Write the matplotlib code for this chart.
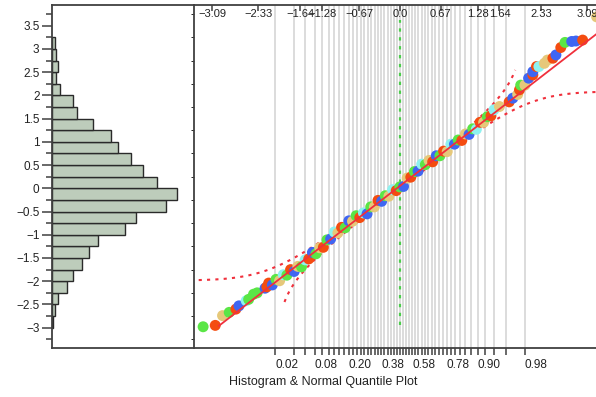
import itertools
from statistics import NormalDist

import matplotlib
matplotlib.use("Agg")
import matplotlib.pyplot as plt
import matplotlib.transforms as mtransforms
import numpy as np

plt.rcParams["font.family"] = ["Liberation Sans", "DejaVu Sans"]

# histogram: lower bin edges (width 0.25) and counts
bin_lo = np.arange(-3.0, 3.25, 0.25)
counts = [1, 2, 4, 11, 15, 21, 26, 33, 52, 60, 81, 89, 75,
          65, 56, 47, 42, 29, 18, 15, 6, 3, 4, 3, 2]

# normal quantile plot points (normal quantile, value)
tail_lo_q = [-3.24, -3.04, -2.92, -2.81, -2.70, -2.65, -2.53, -2.49, -2.41, -2.35, -2.22, -2.19]
tail_lo_y = [-2.98, -2.95, -2.74, -2.67, -2.60, -2.53, -2.42, -2.39, -2.28, -2.25, -2.15, -2.12]
tail_lo_c = "grtgrbcgggbr"

mid_q = [-2.16, -2.10, -2.04, -1.98, -1.92, -1.86, -1.80, -1.74, -1.68, -1.62,
         -1.56, -1.50, -1.44, -1.38, -1.32, -1.26, -1.20, -1.14, -1.08, -1.02,
         -0.96, -0.90, -0.84, -0.78, -0.72, -0.66, -0.60, -0.54, -0.48, -0.42,
         -0.36, -0.30, -0.24, -0.18, -0.12, -0.06, 0.00, 0.06, 0.12, 0.18,
         0.24, 0.30, 0.36, 0.42, 0.48, 0.54, 0.60, 0.66, 0.72, 0.78,
         0.84, 0.90, 0.96, 1.02, 1.08, 1.14, 1.20, 1.26, 1.32, 1.38,
         1.44, 1.50]
mid_y = [-2.04, -2.08, -1.96, -1.99, -1.86, -1.87, -1.75, -1.79, -1.68, -1.69,
         -1.54, -1.52, -1.38, -1.41, -1.28, -1.27, -1.11, -1.09, -0.94, -0.96,
         -0.84, -0.85, -0.70, -0.71, -0.59, -0.63, -0.53, -0.55, -0.40, -0.40,
         -0.26, -0.28, -0.16, -0.17, -0.03, -0.05, 0.03, 0.04, 0.22, 0.24,
         0.36, 0.37, 0.52, 0.51, 0.60, 0.57, 0.70, 0.70, 0.80, 0.79,
         0.95, 0.95, 1.04, 1.03, 1.17, 1.16, 1.28, 1.27, 1.42, 1.42,
         1.54, 1.56]
mid_c = "rbgtcgrbtgcrbgtrgbctrgbtgrcbgtrbgtcrgbtrgbcgtrbgrtcbgrtbgcrtg"

tail_hi_q = [1.55, 1.64, 1.80, 1.86, 1.94, 1.97, 1.99, 2.06, 2.12, 2.19, 2.19, 2.25,
             2.29, 2.38, 2.43, 2.52, 2.57, 2.65, 2.72, 2.83, 2.90, 3.01, 3.24]
tail_hi_y = [1.69, 1.76, 1.86, 1.94, 2.02, 2.12, 2.22, 2.22, 2.37, 2.44, 2.51, 2.62,
             2.62, 2.69, 2.76, 2.80, 2.87, 3.03, 3.14, 3.16, 3.17, 3.19, 3.69]
tail_hi_c = "ctrbtrgtbrbrcttrbrgbbrt"

# fitted normal line and confidence band width
fit_mean = 0.05
fit_sd = 1.01
band_d = 0.022

top_ticks = [-3.09, -2.33, -1.64, -1.28, -0.67, 0.0, 0.67, 1.28, 1.64, 2.33, 3.09]
prob_grid = np.round(np.arange(0.02, 0.99, 0.02), 2)
prob_labels = [0.02, 0.08, 0.20, 0.38, 0.58, 0.78, 0.90, 0.98]

palette = {"b": "#3f66f2", "r": "#f44c10", "g": "#5ae646", "t": "#e6c87a", "c": "#8ef2f0"}

nd = NormalDist()
ppf = np.vectorize(nd.inv_cdf)
cdf = np.vectorize(nd.cdf)

spine_col = "#404040"
fig = plt.figure(figsize=(5.96, 3.97), dpi=100)
ax_h = fig.add_axes([52 / 596, 49 / 397, 142 / 596, 343 / 397])
ax_q = fig.add_axes([194 / 596, 49 / 397, 402 / 596, 343 / 397], sharey=ax_h)

# --- histogram
ax_h.barh(bin_lo, counts, height=0.25, align="edge", color="#bdccbb",
          edgecolor="#2a2a2a", linewidth=1.0)
ax_h.set_xlim(0, 101)
ax_h.set_ylim(-3.437, 3.945)
yt = np.arange(-3.0, 3.51, 0.5)
ax_h.set_yticks(yt, [f"{v:g}".replace("-", "\u2212") for v in yt])
ax_h.set_yticks(np.arange(-3.25, 3.8, 0.25), minor=True)
ax_h.tick_params(axis="y", which="major", length=7, width=1.1, color=spine_col,
                 labelsize=8.5, labelcolor="#222222", pad=2)
ax_h.tick_params(axis="y", which="minor", length=4, width=1.1, color=spine_col)
ax_h.tick_params(axis="x", bottom=False, labelbottom=False)
ax_h.spines["right"].set_visible(False)
for s in ["left", "top", "bottom"]:
    ax_h.spines[s].set_color(spine_col)
    ax_h.spines[s].set_linewidth(1.3)

# --- quantile plot
ax_q.set_xlim(-3.39, 3.23)
grid_q = ppf(prob_grid)
ax_q.vlines(grid_q, -4, 5, color="#d6d6d6", linewidth=1.2, zorder=0)
ax_q.axvline(0, ymin=0.067, ymax=0.956, color="#4ccc4c", linestyle=(0, (1.5, 2.5)),
             linewidth=1.6, zorder=1)

qq = np.linspace(-3.45, 1.90, 300)
ax_q.plot(qq, fit_mean + fit_sd * ppf(np.clip(cdf(qq) + band_d, 1e-9, 1 - 1e-9)),
          color="#f0303c", linestyle=(0, (1.5, 2.5)), linewidth=1.5, zorder=2)
qq = np.linspace(-1.90, 3.30, 300)
ax_q.plot(qq, fit_mean + fit_sd * ppf(np.clip(cdf(qq) - band_d, 1e-9, 1 - 1e-9)),
          color="#f0303c", linestyle=(0, (1.5, 2.5)), linewidth=1.5, zorder=2)

all_q = tail_lo_q + mid_q + tail_hi_q
all_y = tail_lo_y + mid_y + tail_hi_y
codes = tail_lo_c + "".join(itertools.islice(itertools.cycle(mid_c), len(mid_q))) + tail_hi_c
ax_q.scatter(all_q, all_y, s=62, c=[palette[k] for k in codes], linewidths=0, zorder=3)

lq = np.array([-2.98, 3.4])
ax_q.plot(lq, fit_mean + fit_sd * lq, color="#f0303c", linewidth=1.3, zorder=4)

# bottom probability axis
ax_q.set_xticks(grid_q, [f"{p:.2f}" if p in prob_labels else "" for p in prob_grid])
for lbl in ax_q.get_xticklabels():
    lbl.set_ha("left")
ax_q.tick_params(axis="x", direction="out", length=5, width=1.1, color=spine_col,
                 labelsize=8.5, labelcolor="#222222", pad=3)
ax_q.tick_params(axis="y", left=False, labelleft=False)

# top normal quantile axis (labels inside)
top = ax_q.secondary_xaxis("top")
top.set_xticks(top_ticks, [])
top.tick_params(direction="in", length=4, width=1.1, color=spine_col)
top.spines["top"].set_visible(False)
trans = mtransforms.blended_transform_factory(ax_q.transData, ax_q.transAxes)
for v in top_ticks:
    ax_q.text(v, 0.974, f"{v:.2f}".replace("-", "\u2212") if v != 0 else "0.0",
              transform=trans, ha="center", va="center", fontsize=8, color="#222222")

ax_q.spines["right"].set_visible(False)
for s in ["left", "top", "bottom"]:
    ax_q.spines[s].set_color(spine_col)
    ax_q.spines[s].set_linewidth(1.3)

fig.text(323 / 596, 1 - 382 / 397, "Histogram & Normal Quantile Plot",
         ha="center", va="center", fontsize=9, color="#222222")

fig.savefig("out.png", dpi=100)
